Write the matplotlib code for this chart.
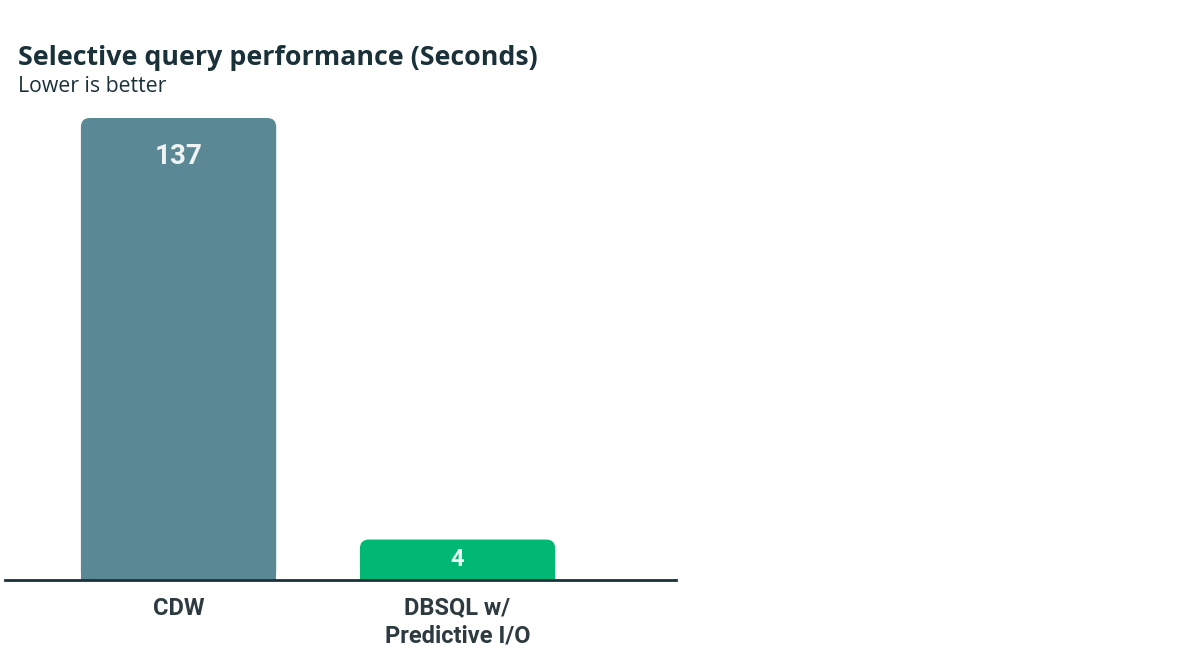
#!/usr/bin/env python3
"""Selective query performance bar chart."""
import matplotlib
matplotlib.use("Agg")
import matplotlib.pyplot as plt
from matplotlib.patches import FancyBboxPatch, Rectangle

categories = ["CDW", "DBSQL w/\nPredictive I/O"]
values = [137, 4]
value_labels = ["137", "4"]
bar_colors = ["#5a8894", "#00b874"]

TITLE = "Selective query performance (Seconds)"
SUBTITLE = "Lower is better"
NAVY = "#1b3139"
COND = ["Liberation Sans Narrow", "Roboto", "DejaVu Sans"]
HEAD = ["Open Sans", "DejaVu Sans"]
MIN_DISPLAY = 12  # short bars get a minimum visual height so the label fits

fig = plt.figure(figsize=(12, 6.59), dpi=100)
ax = fig.add_axes([5 / 1200, 79 / 659, 671 / 1200, 462 / 659])

x = list(range(len(categories)))
heights = [max(v, MIN_DISPLAY) for v in values]
bars = ax.bar(x, heights, width=0.7, color=bar_colors)
ax.set_xlim(-0.622, 1.783)
ax.set_ylim(0, 137)

# rounded top corners
fig.canvas.draw()
px_x = ax.transData.transform((1, 0))[0] - ax.transData.transform((0, 0))[0]
px_y = ax.transData.transform((0, 1))[1] - ax.transData.transform((0, 0))[1]
r = 9
for b, c in zip(bars, bar_colors):
    x0, y0, w, h = b.get_x(), b.get_y(), b.get_width(), b.get_height()
    b.remove()
    ax.add_patch(FancyBboxPatch((x0, y0), w, h,
                                boxstyle=f"round,pad=0,rounding_size={r / px_x}",
                                mutation_aspect=px_x / px_y,
                                fc=c, ec="none", lw=0))
    ax.add_patch(Rectangle((x0, y0), w, h / 2, fc=c, ec="none", lw=0))

for xi, h, lab in zip(x, heights, value_labels):
    if h > 60:
        ax.text(xi, h - 39 / px_y, lab, ha="center", va="center",
                fontsize=20, color="#eef3f4", family=COND, fontweight="bold")
    else:
        ax.text(xi, h / 2, lab, ha="center", va="center",
                fontsize=17, color="#eef7f2", family=COND, fontweight="bold")

for s in ["top", "right", "left"]:
    ax.spines[s].set_visible(False)
ax.spines["bottom"].set_color(NAVY)
ax.spines["bottom"].set_linewidth(2)
ax.set_yticks([])
ax.set_xticks(x)
ax.set_xticklabels(categories, fontsize=17, color="#2d3b40", family=COND,
                   fontweight="bold", linespacing=1.25, va="top")
ax.tick_params(axis="x", length=0, pad=12)

fig.text(18 / 1200, 1 - 58 / 659, TITLE, fontsize=19.3, fontweight="bold",
         color=NAVY, family=HEAD, va="center")
fig.text(18 / 1200, 1 - 87 / 659, SUBTITLE, fontsize=15.3, color=NAVY,
         family=HEAD, va="center")

fig.savefig("out.png", dpi=100, facecolor="white")
